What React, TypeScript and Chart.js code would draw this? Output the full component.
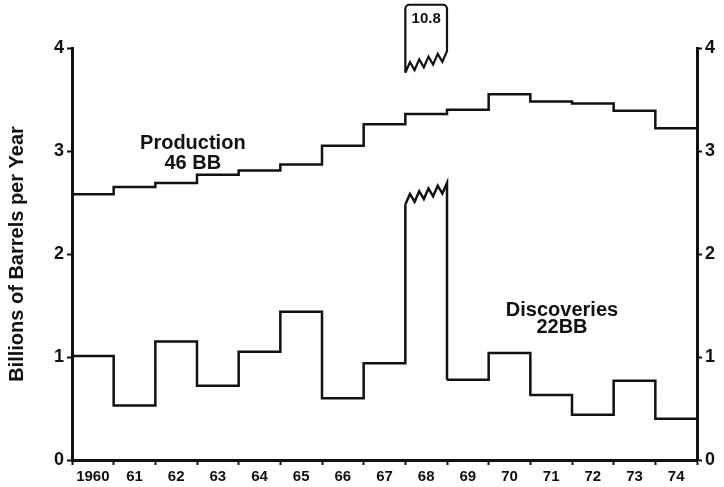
import React, { useEffect, useRef } from 'react';
import { Chart, registerables } from 'chart.js';

Chart.register(...registerables);

// ---- data ----
const years = [1960, 1961, 1962, 1963, 1964, 1965, 1966, 1967, 1968, 1969, 1970, 1971, 1972, 1973, 1974];
const yearLabels = ['1960', '61', '62', '63', '64', '65', '66', '67', '68', '69', '70', '71', '72', '73', '74'];
const production = [2.58, 2.65, 2.69, 2.77, 2.81, 2.87, 3.05, 3.26, 3.36, 3.40, 3.55, 3.48, 3.46, 3.39, 3.22];
const discoveries = [1.01, 0.53, 1.15, 0.72, 1.05, 1.44, 0.60, 0.94, 10.8, 0.78, 1.04, 0.63, 0.44, 0.77, 0.40];
const yTicks = [0, 1, 2, 3, 4];
const productionLabel = ['Production', '46 BB'];
const discoveriesLabel = ['Discoveries', '22BB'];
const yTitle = 'Billions of Barrels per Year';

const X_MIN = 1960;
const X_MAX = 1975;
const Y_MIN = 0;
const Y_MAX = 4;

const INK = '#111111';
const FONT = "'Liberation Sans', Arial, Helvetica, sans-serif";

// break decoration levels (data units)
const BREAK = {
  lowValleyStart: 2.48,
  lowValleyEnd: 2.6,
  lowPeakEnd: 2.69,
  highValleyStart: 3.76,
  highValleyEnd: 3.88,
  highPeakEnd: 3.97,
  boxTop: 4.42,
  labelAt: 4.28,
};

function stepPoints(vals: number[]) {
  const pts = years.map((yr, i) => ({ x: yr, y: vals[i] > Y_MAX ? BREAK.lowValleyStart : vals[i] }));
  pts.push({ x: X_MAX, y: pts[pts.length - 1].y });
  return pts;
}

function zigzag(ctx: CanvasRenderingContext2D, x0: number, x1: number, yv0: number, yv1: number, amp: number, n: number, move: boolean) {
  for (let i = 0; i <= n; i++) {
    const t = i / n;
    const x = x0 + (x1 - x0) * t;
    const y = yv0 + (yv1 - yv0) * t - (i % 2 === 1 ? amp : 0);
    if (i === 0 && move) ctx.moveTo(x, y);
    else ctx.lineTo(x, y);
  }
}

const decorPlugin = {
  id: 'decor',
  beforeDraw(chart: any) {
    const { ctx, width, height } = chart;
    ctx.save();
    ctx.fillStyle = '#ffffff';
    ctx.fillRect(0, 0, width, height);
    ctx.restore();
  },
  afterDatasetsDraw(chart: any) {
    const { ctx } = chart;
    const xs = chart.scales.x;
    const ys = chart.scales.y;
    const py = (v: number) => ys.getPixelForValue(v);
    ctx.save();
    ctx.strokeStyle = INK;
    ctx.lineWidth = 2.5;
    ctx.lineJoin = 'miter';
    ctx.lineCap = 'butt';

    discoveries.forEach((v, i) => {
      if (v <= Y_MAX) return;
      const x0 = xs.getPixelForValue(years[i]);
      const x1 = xs.getPixelForValue(i + 1 < years.length ? years[i + 1] : X_MAX);
      const next = i + 1 < discoveries.length ? discoveries[i + 1] : v;
      // lower broken part
      const lowAmp = py(BREAK.lowValleyEnd) - py(BREAK.lowPeakEnd);
      ctx.beginPath();
      zigzag(ctx, x0, x1, py(BREAK.lowValleyStart), py(BREAK.lowValleyEnd), lowAmp, 9, true);
      ctx.lineTo(x1, py(next));
      ctx.stroke();

      // upper box
      const hiAmp = py(BREAK.highValleyEnd) - py(BREAK.highPeakEnd);
      const top = py(BREAK.boxTop);
      const r = 4;
      ctx.lineWidth = 2.2;
      ctx.beginPath();
      zigzag(ctx, x0, x1, py(BREAK.highValleyStart), py(BREAK.highValleyEnd), hiAmp, 9, true);
      ctx.lineTo(x1, top + r);
      ctx.arcTo(x1, top, x1 - r, top, r);
      ctx.lineTo(x0 + r, top);
      ctx.arcTo(x0, top, x0, top + r, r);
      ctx.lineTo(x0, py(BREAK.highValleyStart));
      ctx.stroke();

      ctx.fillStyle = INK;
      ctx.font = `bold 15px ${FONT}`;
      ctx.textAlign = 'center';
      ctx.textBaseline = 'middle';
      ctx.fillText(v.toFixed(1), (x0 + x1) / 2, py(BREAK.labelAt));
    });

    // series labels
    ctx.fillStyle = INK;
    ctx.font = `bold 20px ${FONT}`;
    ctx.textAlign = 'center';
    ctx.textBaseline = 'middle';
    const px = (v: number) => xs.getPixelForValue(v);
    ctx.fillText(productionLabel[0], px(1962.9), py(3.07));
    ctx.fillText(productionLabel[1], px(1962.9), py(2.875));
    ctx.fillText(discoveriesLabel[0], px(1971.76), py(1.456));
    ctx.fillText(discoveriesLabel[1], px(1971.76), py(1.285));
    ctx.restore();
  },
};

export default function App() {
  const ref = useRef<HTMLCanvasElement | null>(null);

  useEffect(() => {
    if (!ref.current) return;
    const boundaries = [...years, X_MAX];
    const centers = years.map((y) => y + 0.5);
    const xTickValues = [...boundaries, ...centers].sort((a, b) => a - b);

    const yAxisCommon = (pos: 'left' | 'right', w: number) => ({
      type: 'linear' as const,
      position: pos,
      min: Y_MIN,
      max: Y_MAX,
      afterBuildTicks: (s: any) => {
        s.ticks = yTicks.map((v) => ({ value: v }));
      },
      afterFit: (s: any) => {
        s.width = w;
      },
      ticks: {
        color: INK,
        padding: 3,
        font: { family: FONT, size: 18, weight: 'bold' as const },
        callback: (v: any) => String(v),
      },
      grid: {
        drawOnChartArea: false,
        drawTicks: true,
        tickLength: 5,
        tickWidth: 2,
        tickColor: INK,
      },
      border: { display: true, color: INK, width: 3 },
    });

    const chart = new Chart(ref.current, {
      type: 'line',
      data: {
        datasets: [
          {
            label: 'Production',
            data: stepPoints(production),
            stepped: 'before',
            borderColor: INK,
            borderWidth: 2.5,
            pointRadius: 0,
            fill: false,
            borderCapStyle: 'butt',
            borderJoinStyle: 'miter',
          },
          {
            label: 'Discoveries',
            data: stepPoints(discoveries),
            stepped: 'before',
            borderColor: INK,
            borderWidth: 2.5,
            pointRadius: 0,
            fill: false,
            borderCapStyle: 'butt',
            borderJoinStyle: 'miter',
            segment: {
              borderColor: (c: any) =>
                discoveries[c.p0DataIndex] !== undefined && discoveries[c.p0DataIndex] > Y_MAX
                  ? 'rgba(0,0,0,0)'
                  : INK,
            },
          },
        ],
      },
      options: {
        animation: false,
        responsive: false,
        parsing: false as any,
        layout: { padding: { top: 48, left: 0, right: 0, bottom: 0 } },
        plugins: {
          legend: { display: false },
          tooltip: { enabled: false },
        },
        scales: {
          x: {
            type: 'linear',
            min: X_MIN,
            max: X_MAX,
            afterBuildTicks: (s: any) => {
              s.ticks = xTickValues.map((v) => ({ value: v }));
            },
            afterFit: (s: any) => {
              s.height = 27;
            },
            ticks: {
              autoSkip: false,
              maxRotation: 0,
              minRotation: 0,
              padding: 3,
              color: INK,
              font: { family: FONT, size: 15, weight: 'bold' },
              callback: (v: any) => {
                const i = centers.indexOf(Number(v));
                return i >= 0 ? yearLabels[i] : '';
              },
            },
            grid: {
              drawOnChartArea: false,
              drawTicks: true,
              tickLength: 5,
              tickWidth: 2,
              tickColor: (c: any) =>
                c.tick && Number.isInteger(c.tick.value) ? INK : 'rgba(0,0,0,0)',
            },
            border: { display: true, color: INK, width: 3 },
          },
          y: {
            ...yAxisCommon('left', 72),
            title: {
              display: true,
              text: yTitle,
              color: INK,
              font: { family: FONT, size: 20, weight: 'bold' },
              padding: { top: 5, bottom: 0 },
            },
          } as any,
          y2: yAxisCommon('right', 27) as any,
        },
      },
      plugins: [decorPlugin],
    });
    return () => chart.destroy();
  }, []);

  return (
    <div style={{ position: 'absolute', left: 0, top: 0, width: 724, height: 487 }}>
      <canvas ref={ref} width={724} height={487} style={{ width: 724, height: 487, display: 'block' }} />
    </div>
  );
}
